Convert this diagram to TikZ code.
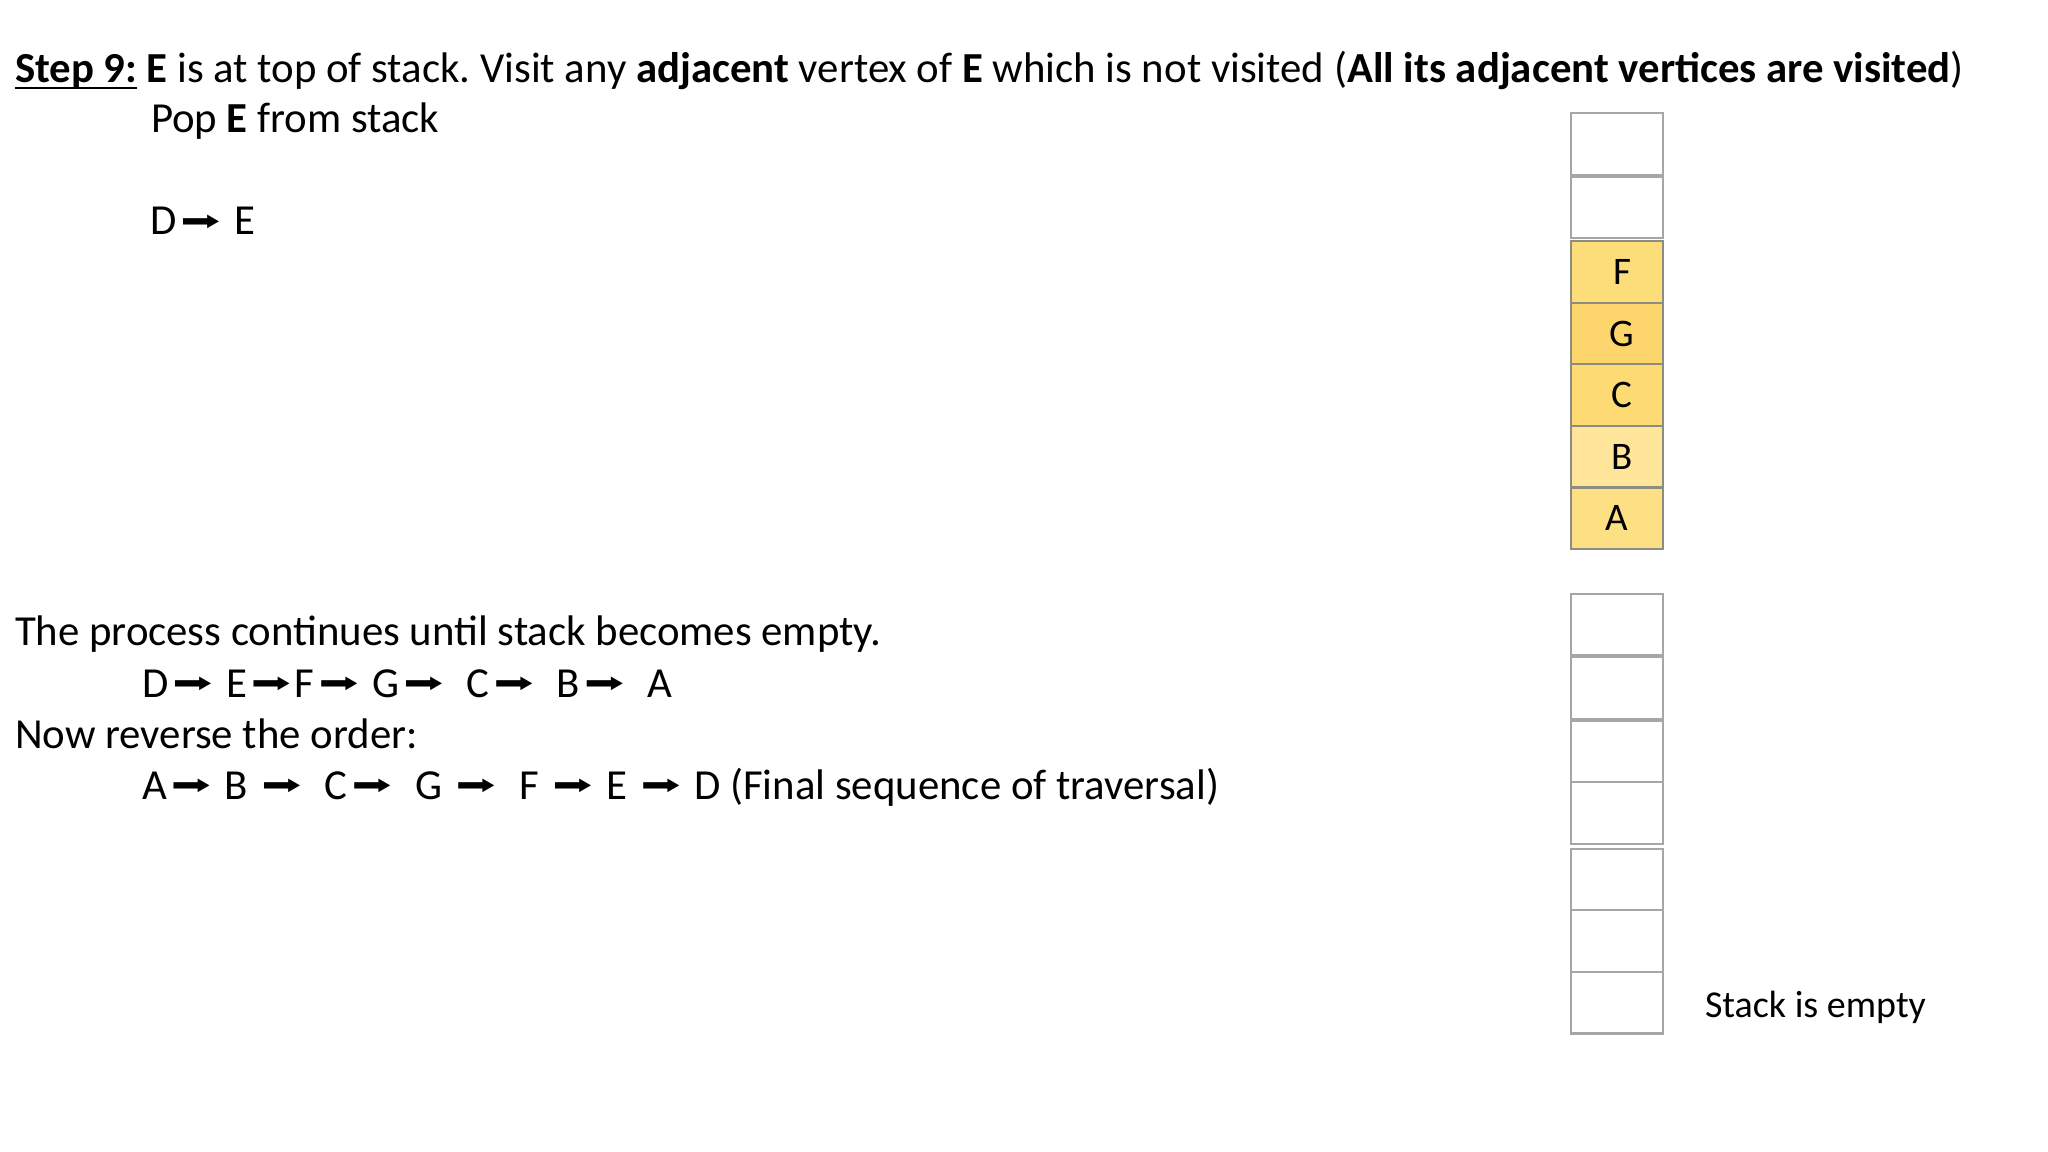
\documentclass[tikz,border=0pt]{standalone}
\usepackage{fontspec}
\setmainfont{Carlito}
\newfontfamily\symfont{DejaVu Sans}
\usetikzlibrary{positioning}

\definecolor{cellF}{HTML}{FDDC7A}
\definecolor{cellG}{HTML}{FCD66C}
\definecolor{cellC}{HTML}{FDDA74}
\definecolor{cellB}{HTML}{FEE59A}
\definecolor{cellA}{HTML}{FDDF84}
\definecolor{rimE}{HTML}{A6A6A6}
\definecolor{rimF}{HTML}{8C8C80}

\frenchspacing
\newcommand{\nxt}{\kern0.04cm\raisebox{0.045cm}{\resizebox*{0.40cm}{0.155cm}{\symfont ➡}}\kern0.04cm}
\newcommand{\stepul}[1]{\sbox0{#1}\rlap{\rule[-0.065cm]{\wd0}{0.028cm}}\usebox0}
\newcommand{\sh}[1]{\hspace*{0.1cm}#1}

\begin{document}
\begin{tikzpicture}
	[x=0.01cm, y=-0.01cm,
	every node/.style={inner sep=0pt, outer sep=0pt, font=\fontsize{12.17}{14.6}\selectfont},
	txt/.style={anchor=base west},
	cell/.style={draw=rimE, line width=0.6pt, minimum width=0.92cm, minimum height=0.615cm,
		font=\fontsize{11.1}{13}\selectfont},
	full/.style={cell, draw=rimF, fill=#1}]
	\useasboundingbox (0,0) rectangle (2048,1152);
	% text on the left
	\node (step) [txt] at (15,83) {\stepul{\textbf{Step 9:}} \textbf{E} is at top of stack. Visit any \textbf{adjacent} vertex of \textbf{E} which is not visited (\textbf{All its adjacent vertices are visited})};
	\node (pop) [txt] at (151,133) {Pop \textbf{E} from stack};
	\node (path) [txt] at (150,235) {D\nxt\ E};
	\node (cont) [txt] at (15,646) {The process continues until stack becomes empty.};
	\node (order) [txt] at (142,697) {D\nxt\ E\nxt F\nxt\ G\nxt\ \ C\nxt\ \ B\nxt\ \ A};
	\node (rev) [txt] at (15,748) {Now reverse the order:};
	\node (final) [txt] at (142,799) {A\nxt\ B\ \nxt\ \ C\nxt\ \ G\ \nxt\ \ F\ \nxt\ E\ \nxt\ D (Final sequence of traversal)};
	% stack before
	\node (u1) [cell] at (1617,144) {};
	\node (u2) [cell,below=0.02cm of u1] {};
	\node (f) [full=cellF,below=0.03cm of u2] {\sh{F}};
	\node (g) [full=cellG,below=0pt of f] {\sh{G}};
	\node (c) [full=cellC,below=0pt of g] {\sh{C}};
	\node (b) [full=cellB,below=0pt of c] {\sh{B}};
	\node (a) [full=cellA,below=0pt of b] {A};
	% stack after
	\node (l1) [cell] at (1617,624.5) {};
	\node (l2) [cell,below=0.02cm of l1] {};
	\node (l3) [cell,below=0.02cm of l2] {};
	\node (l4) [cell,below=0pt of l3] {};
	\node (l5) [cell,below=0.05cm of l4] {};
	\node (l6) [cell,below=0pt of l5] {};
	\node (l7) [cell,below=0pt of l6] {};
	\node (empty) [txt,font=\fontsize{10.8}{13}\selectfont] at (1705,1017) {Stack is empty};
\end{tikzpicture}
\end{document}
